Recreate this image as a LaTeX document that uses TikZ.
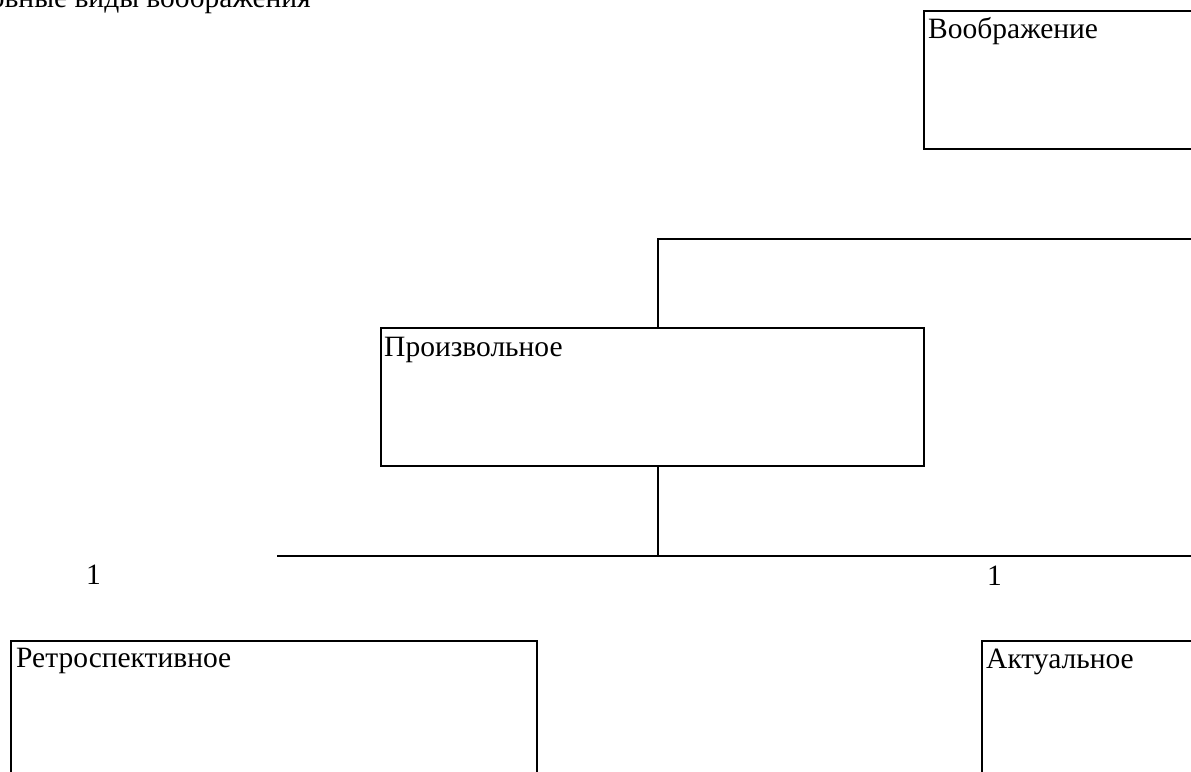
\documentclass[tikz,border=0pt]{standalone}
\usepackage{fontspec}
\setmainfont{Liberation Serif}
\tikzset{
  box/.style={draw, line width=2pt, rectangle, minimum width=#1, minimum height=138pt, anchor=north west, inner sep=0pt},
  boxtext/.style={anchor=base west, inner sep=0pt, font=\fontsize{29.5}{34}\selectfont},
  num/.style={anchor=base west, inner sep=0pt, font=\fontsize{29.5}{34}\selectfont},
  wire/.style={line width=2pt},
}
\begin{document}
\begin{tikzpicture}[x=1pt, y=-1pt]
  \useasboundingbox (0,0) rectangle (1191,771);
  \clip (0,0) rectangle (1191,771);

  % heading, running past the top-left edge of the page
  \node[anchor=base east, inner sep=0pt, font=\fontsize{29.5}{34}\selectfont] (title) at (311,7) {Основные виды воображения};

  % boxes
  \node[box=290pt] (voobr) at (923,10) {};
  \node[boxtext] (voobrT) at ([xshift=5pt, yshift=-28pt]voobr.north west) {Воображение};

  \node[box=543pt] (proizv) at (380,327) {};
  \node[boxtext] (proizvT) at ([xshift=4pt, yshift=-29pt]proizv.north west) {Произвольное};

  \node[box=526pt] (retro) at (10,640) {};
  \node[boxtext] (retroT) at ([xshift=6pt, yshift=-27pt]retro.north west) {Ретроспективное};

  \node[box=240pt] (aktual) at (981,640) {};
  \node[boxtext] (aktualT) at ([xshift=5pt, yshift=-28pt]aktual.north west) {Актуальное};

  % numbers
  \node[num] (n1) at (86,584) {1};
  \node[num] (n2) at (987,585) {1};

  % connectors
  \coordinate (topR) at (1200,239);
  \coordinate (topJ) at (658,239);
  \draw[wire] (topR) -- (topJ) -- (topJ |- proizv.north);

  \coordinate (botJ) at (658,556);
  \coordinate (botL) at (277,556);
  \coordinate (botR) at (1200,556);
  \draw[wire] (botJ |- proizv.south) -- (botJ);
  \draw[wire] (botL) -- (botR);
\end{tikzpicture}
\end{document}
